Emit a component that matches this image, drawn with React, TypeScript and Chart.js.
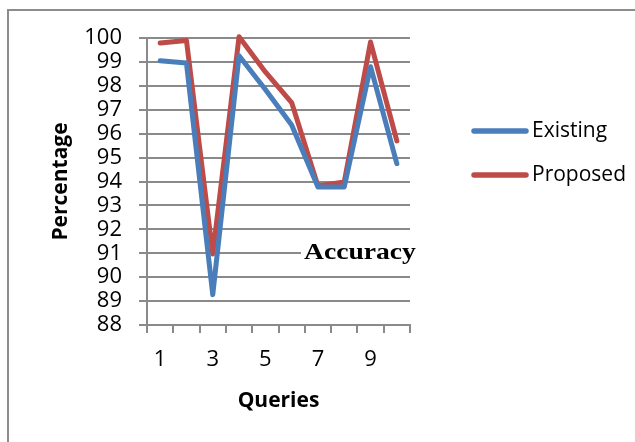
import React, { useEffect, useRef } from "react";
import { Chart, registerables } from "chart.js";

Chart.register(...registerables);

const categories = ["1", "2", "3", "4", "5", "6", "7", "8", "9", "10"];
const existing = [99.05, 98.95, 89.27, 99.26, 97.85, 96.36, 93.77, 93.77, 98.8, 94.75];
const proposed = [99.79, 99.9, 90.97, 100.05, 98.58, 97.3, 93.81, 93.98, 99.83, 95.7];
const seriesNames = ["Existing", "Proposed"];
const seriesColors = ["#4a7ebb", "#be4b48"];
const yMin = 88;
const yMax = 100;
const yStep = 1;
const chartTitle = "Accuracy";
const xTitle = "Queries";
const yTitle = "Percentage";

const GRID = "#8a8a8a";
const SANS = "'Open Sans', sans-serif";

export default function App() {
  const ref = useRef<HTMLCanvasElement>(null);

  useEffect(() => {
    const canvas = ref.current;
    if (!canvas) return;

    const overlay = {
      id: "overlay",
      afterDraw(chart: any) {
        const ctx = chart.ctx as CanvasRenderingContext2D;
        ctx.save();
        // legend
        chart.data.datasets.forEach((ds: any, i: number) => {
          const y = 131 + i * 44;
          ctx.strokeStyle = ds.borderColor;
          ctx.lineWidth = 5.5;
          ctx.lineCap = "round";
          ctx.beginPath();
          ctx.moveTo(474, y);
          ctx.lineTo(526, y);
          ctx.stroke();
          ctx.fillStyle = "#000";
          ctx.font = `21px ${SANS}`;
          ctx.textBaseline = "middle";
          ctx.textAlign = "left";
          ctx.fillText(ds.label, 532, y);
        });
        // floating title
        ctx.fillStyle = "#fff";
        ctx.fillRect(301, 240, 118, 26);
        ctx.fillStyle = "#000";
        ctx.font = `bold 23px 'Liberation Serif', serif`;
        ctx.textBaseline = "alphabetic";
        ctx.textAlign = "left";
        ctx.translate(304, 259);
        ctx.scale(1.2, 1);
        ctx.fillText(chartTitle, 0, 0);
        ctx.restore();
      },
    };

    const chart = new Chart(canvas, {
      type: "line",
      data: {
        labels: categories,
        datasets: [
          {
            label: seriesNames[0],
            data: existing,
            borderColor: seriesColors[0],
            backgroundColor: seriesColors[0],
            borderWidth: 5,
            pointRadius: 0,
            tension: 0,
            clip: false as any,
            borderJoinStyle: "round",
            borderCapStyle: "round",
          },
          {
            label: seriesNames[1],
            data: proposed,
            borderColor: seriesColors[1],
            backgroundColor: seriesColors[1],
            borderWidth: 5,
            pointRadius: 0,
            tension: 0,
            clip: false as any,
            borderJoinStyle: "round",
            borderCapStyle: "round",
          },
        ],
      },
      options: {
        responsive: false,
        animation: false,
        layout: { padding: { top: 38, right: 225, bottom: 0, left: 0 } },
        plugins: {
          legend: { display: false },
          tooltip: { enabled: false },
          title: { display: false },
        },
        scales: {
          x: {
            type: "category",
            offset: true,
            grid: {
              offset: true,
              drawOnChartArea: false,
              drawTicks: true,
              tickLength: 8,
              color: GRID,
              lineWidth: 2,
            },
            border: { display: true, color: GRID, width: 2 },
            ticks: {
              autoSkip: false,
              maxRotation: 0,
              padding: 14,
              color: "#000",
              font: { family: SANS, size: 22 },
              callback: (_v: any, i: number) => (i % 2 === 0 ? categories[i] : ""),
            },
            title: {
              display: true,
              text: xTitle,
              color: "#000",
              font: { family: SANS, size: 21, weight: "bold" },
              padding: { top: 0, bottom: 28 },
            },
            afterFit: (s: any) => {
              s.height = 442 - 325;
            },
          },
          y: {
            min: yMin,
            max: yMax,
            ticks: {
              stepSize: yStep,
              autoSkip: false,
              padding: 17,
              color: "#000",
              font: { family: SANS, size: 22 },
            },
            grid: { color: GRID, lineWidth: 2, tickLength: 8 },
            border: { display: true, color: GRID, width: 2 },
            title: {
              display: true,
              text: yTitle,
              color: "#000",
              font: { family: SANS, size: 21, weight: "bold" },
              padding: { top: 48, bottom: 0 },
            },
            afterFit: (s: any) => {
              s.width = 147;
            },
          },
        },
      } as any,
      plugins: [overlay],
    });

    return () => chart.destroy();
  }, []);

  return (
    <>
      <div
        style={{
          position: "fixed",
          left: 7,
          top: 9,
          width: 1000,
          height: 1000,
          borderLeft: "2px solid #8c8c8c",
          borderTop: "2px solid #8c8c8c",
          boxSizing: "border-box",
        }}
      />
      <canvas
        ref={ref}
        width={635}
        height={442}
        style={{ position: "fixed", left: 0, top: 0, display: "block" }}
      />
    </>
  );
}
